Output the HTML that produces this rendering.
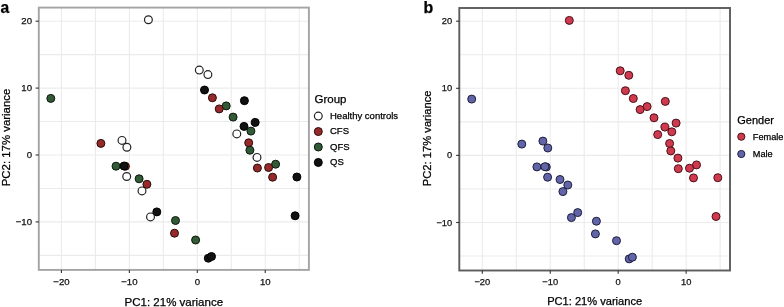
<!DOCTYPE html><html><head><meta charset="utf-8"><style>html,body{margin:0;padding:0;background:#fff;}svg{display:block;will-change:transform;}text{font-family:"Liberation Sans",sans-serif;stroke:currentColor;stroke-width:0.25px;}</style></head><body>
<svg width="784" height="307" viewBox="0 0 784 307">
<rect width="784" height="307" fill="#fff"/>
<rect x="38.8" y="7.6" width="270.09999999999997" height="262.29999999999995" fill="#fff"/>
<line x1="61.44" y1="7.6" x2="61.44" y2="269.9" stroke="#ebebeb" stroke-width="1.1"/>
<line x1="95.41" y1="7.6" x2="95.41" y2="269.9" stroke="#ebebeb" stroke-width="1.1"/>
<line x1="129.37" y1="7.6" x2="129.37" y2="269.9" stroke="#ebebeb" stroke-width="1.1"/>
<line x1="163.34" y1="7.6" x2="163.34" y2="269.9" stroke="#ebebeb" stroke-width="1.1"/>
<line x1="197.30" y1="7.6" x2="197.30" y2="269.9" stroke="#ebebeb" stroke-width="1.1"/>
<line x1="231.27" y1="7.6" x2="231.27" y2="269.9" stroke="#ebebeb" stroke-width="1.1"/>
<line x1="265.23" y1="7.6" x2="265.23" y2="269.9" stroke="#ebebeb" stroke-width="1.1"/>
<line x1="299.19" y1="7.6" x2="299.19" y2="269.9" stroke="#ebebeb" stroke-width="1.1"/>
<line x1="38.8" y1="21.20" x2="308.9" y2="21.20" stroke="#ebebeb" stroke-width="1.1"/>
<line x1="38.8" y1="54.65" x2="308.9" y2="54.65" stroke="#ebebeb" stroke-width="1.1"/>
<line x1="38.8" y1="88.10" x2="308.9" y2="88.10" stroke="#ebebeb" stroke-width="1.1"/>
<line x1="38.8" y1="121.55" x2="308.9" y2="121.55" stroke="#ebebeb" stroke-width="1.1"/>
<line x1="38.8" y1="155.00" x2="308.9" y2="155.00" stroke="#ebebeb" stroke-width="1.1"/>
<line x1="38.8" y1="188.45" x2="308.9" y2="188.45" stroke="#ebebeb" stroke-width="1.1"/>
<line x1="38.8" y1="221.90" x2="308.9" y2="221.90" stroke="#ebebeb" stroke-width="1.1"/>
<line x1="38.8" y1="255.35" x2="308.9" y2="255.35" stroke="#ebebeb" stroke-width="1.1"/>
<circle cx="148.40" cy="19.70" r="3.90" fill="#ffffff" stroke="#222" stroke-width="1.2"/>
<circle cx="50.80" cy="98.40" r="4.00" fill="#325a37" stroke="#0c180d" stroke-width="1.0"/>
<circle cx="199.30" cy="70.10" r="3.90" fill="#ffffff" stroke="#222" stroke-width="1.2"/>
<circle cx="207.90" cy="74.60" r="3.90" fill="#ffffff" stroke="#222" stroke-width="1.2"/>
<circle cx="204.50" cy="90.00" r="4.00" fill="#111111" stroke="#000" stroke-width="1.0"/>
<circle cx="212.40" cy="97.80" r="4.00" fill="#962929" stroke="#2a0c0c" stroke-width="1.0"/>
<circle cx="226.20" cy="105.90" r="4.00" fill="#325a37" stroke="#0c180d" stroke-width="1.0"/>
<circle cx="219.20" cy="108.90" r="4.00" fill="#962929" stroke="#2a0c0c" stroke-width="1.0"/>
<circle cx="244.40" cy="100.70" r="4.00" fill="#111111" stroke="#000" stroke-width="1.0"/>
<circle cx="233.10" cy="117.10" r="4.00" fill="#325a37" stroke="#0c180d" stroke-width="1.0"/>
<circle cx="244.00" cy="126.40" r="4.00" fill="#111111" stroke="#000" stroke-width="1.0"/>
<circle cx="255.20" cy="122.40" r="4.00" fill="#111111" stroke="#000" stroke-width="1.0"/>
<circle cx="250.90" cy="131.10" r="4.00" fill="#325a37" stroke="#0c180d" stroke-width="1.0"/>
<circle cx="236.80" cy="133.90" r="3.90" fill="#ffffff" stroke="#222" stroke-width="1.2"/>
<circle cx="248.70" cy="142.80" r="4.00" fill="#962929" stroke="#2a0c0c" stroke-width="1.0"/>
<circle cx="249.90" cy="150.20" r="4.00" fill="#325a37" stroke="#0c180d" stroke-width="1.0"/>
<circle cx="257.00" cy="157.40" r="3.90" fill="#ffffff" stroke="#222" stroke-width="1.2"/>
<circle cx="257.40" cy="168.00" r="4.00" fill="#962929" stroke="#2a0c0c" stroke-width="1.0"/>
<circle cx="275.60" cy="164.20" r="4.00" fill="#325a37" stroke="#0c180d" stroke-width="1.0"/>
<circle cx="268.60" cy="167.50" r="4.00" fill="#962929" stroke="#2a0c0c" stroke-width="1.0"/>
<circle cx="272.60" cy="177.20" r="4.00" fill="#962929" stroke="#2a0c0c" stroke-width="1.0"/>
<circle cx="296.90" cy="177.00" r="4.00" fill="#111111" stroke="#000" stroke-width="1.0"/>
<circle cx="295.10" cy="215.80" r="4.00" fill="#111111" stroke="#000" stroke-width="1.0"/>
<circle cx="100.90" cy="143.40" r="4.00" fill="#962929" stroke="#2a0c0c" stroke-width="1.0"/>
<circle cx="122.00" cy="140.40" r="3.90" fill="#ffffff" stroke="#222" stroke-width="1.2"/>
<circle cx="126.90" cy="147.30" r="3.90" fill="#ffffff" stroke="#222" stroke-width="1.2"/>
<circle cx="116.00" cy="166.20" r="4.00" fill="#325a37" stroke="#0c180d" stroke-width="1.0"/>
<circle cx="125.40" cy="166.30" r="4.00" fill="#962929" stroke="#2a0c0c" stroke-width="1.0"/>
<circle cx="124.00" cy="166.00" r="4.00" fill="#111111" stroke="#000" stroke-width="1.0"/>
<circle cx="126.70" cy="176.50" r="3.90" fill="#ffffff" stroke="#222" stroke-width="1.2"/>
<circle cx="139.10" cy="178.80" r="4.00" fill="#325a37" stroke="#0c180d" stroke-width="1.0"/>
<circle cx="142.00" cy="190.90" r="3.90" fill="#ffffff" stroke="#222" stroke-width="1.2"/>
<circle cx="146.90" cy="184.30" r="4.00" fill="#962929" stroke="#2a0c0c" stroke-width="1.0"/>
<circle cx="156.80" cy="211.90" r="4.00" fill="#111111" stroke="#000" stroke-width="1.0"/>
<circle cx="150.50" cy="216.90" r="3.90" fill="#ffffff" stroke="#222" stroke-width="1.2"/>
<circle cx="175.50" cy="220.50" r="4.00" fill="#325a37" stroke="#0c180d" stroke-width="1.0"/>
<circle cx="174.50" cy="233.20" r="4.00" fill="#962929" stroke="#2a0c0c" stroke-width="1.0"/>
<circle cx="195.60" cy="240.00" r="4.00" fill="#325a37" stroke="#0c180d" stroke-width="1.0"/>
<circle cx="208.30" cy="258.20" r="4.00" fill="#111111" stroke="#000" stroke-width="1.0"/>
<circle cx="211.50" cy="256.50" r="4.00" fill="#111111" stroke="#000" stroke-width="1.0"/>
<rect x="38.8" y="7.6" width="270.09999999999997" height="262.29999999999995" fill="none" stroke="#a4a4a4" stroke-width="1.9"/>
<line x1="61.44" y1="269.9" x2="61.44" y2="273.09999999999997" stroke="#333" stroke-width="1.1"/>
<text x="61.44" y="285" font-size="9.6" fill="#222" text-anchor="middle">−20</text>
<line x1="129.37" y1="269.9" x2="129.37" y2="273.09999999999997" stroke="#333" stroke-width="1.1"/>
<text x="129.37" y="285" font-size="9.6" fill="#222" text-anchor="middle">−10</text>
<line x1="197.30" y1="269.9" x2="197.30" y2="273.09999999999997" stroke="#333" stroke-width="1.1"/>
<text x="197.30" y="285" font-size="9.6" fill="#222" text-anchor="middle">0</text>
<line x1="265.23" y1="269.9" x2="265.23" y2="273.09999999999997" stroke="#333" stroke-width="1.1"/>
<text x="265.23" y="285" font-size="9.6" fill="#222" text-anchor="middle">10</text>
<line x1="35.599999999999994" y1="21.20" x2="38.8" y2="21.20" stroke="#333" stroke-width="1.1"/>
<text x="32.0" y="24" font-size="9.6" fill="#222" text-anchor="end">20</text>
<line x1="35.599999999999994" y1="88.10" x2="38.8" y2="88.10" stroke="#333" stroke-width="1.1"/>
<text x="32.0" y="91" font-size="9.6" fill="#222" text-anchor="end">10</text>
<line x1="35.599999999999994" y1="155.00" x2="38.8" y2="155.00" stroke="#333" stroke-width="1.1"/>
<text x="32.0" y="158" font-size="9.6" fill="#222" text-anchor="end">0</text>
<line x1="35.599999999999994" y1="221.90" x2="38.8" y2="221.90" stroke="#333" stroke-width="1.1"/>
<text x="32.0" y="225" font-size="9.6" fill="#222" text-anchor="end">−10</text>
<text x="173.85" y="305.8" font-size="11.5" fill="#000" text-anchor="middle">PC1: 21% variance</text>
<text transform="translate(10.0,137.5) rotate(-90)" x="0" y="0" font-size="11.4" fill="#000" text-anchor="middle">PC2: 17% variance</text>
<text x="0.5" y="13" font-size="15.6" font-weight="bold" fill="#000">a</text>
<text x="314.5" y="103.1" font-size="11.5" fill="#000">Group</text>
<circle cx="318.3" cy="116.10" r="3.90" fill="#ffffff" stroke="#222" stroke-width="1.2"/>
<text x="330.0" y="119.04" font-size="9.5" fill="#000">Healthy controls</text>
<circle cx="318.3" cy="131.55" r="4.00" fill="#962929" stroke="#2a0c0c" stroke-width="1.0"/>
<text x="330.0" y="134.49" font-size="9.5" fill="#000">CFS</text>
<circle cx="318.3" cy="147.00" r="4.00" fill="#325a37" stroke="#0c180d" stroke-width="1.0"/>
<text x="330.0" y="149.94" font-size="9.5" fill="#000">QFS</text>
<circle cx="318.3" cy="162.45" r="4.00" fill="#111111" stroke="#000" stroke-width="1.0"/>
<text x="330.0" y="165.39" font-size="9.5" fill="#000">QS</text>
<rect x="459.3" y="8.0" width="270.7" height="262.5" fill="#fff"/>
<line x1="482.30" y1="8.0" x2="482.30" y2="270.5" stroke="#ebebeb" stroke-width="1.1"/>
<line x1="516.28" y1="8.0" x2="516.28" y2="270.5" stroke="#ebebeb" stroke-width="1.1"/>
<line x1="550.25" y1="8.0" x2="550.25" y2="270.5" stroke="#ebebeb" stroke-width="1.1"/>
<line x1="584.23" y1="8.0" x2="584.23" y2="270.5" stroke="#ebebeb" stroke-width="1.1"/>
<line x1="618.20" y1="8.0" x2="618.20" y2="270.5" stroke="#ebebeb" stroke-width="1.1"/>
<line x1="652.18" y1="8.0" x2="652.18" y2="270.5" stroke="#ebebeb" stroke-width="1.1"/>
<line x1="686.15" y1="8.0" x2="686.15" y2="270.5" stroke="#ebebeb" stroke-width="1.1"/>
<line x1="720.12" y1="8.0" x2="720.12" y2="270.5" stroke="#ebebeb" stroke-width="1.1"/>
<line x1="459.3" y1="21.20" x2="730.0" y2="21.20" stroke="#ebebeb" stroke-width="1.1"/>
<line x1="459.3" y1="54.75" x2="730.0" y2="54.75" stroke="#ebebeb" stroke-width="1.1"/>
<line x1="459.3" y1="88.30" x2="730.0" y2="88.30" stroke="#ebebeb" stroke-width="1.1"/>
<line x1="459.3" y1="121.85" x2="730.0" y2="121.85" stroke="#ebebeb" stroke-width="1.1"/>
<line x1="459.3" y1="155.40" x2="730.0" y2="155.40" stroke="#ebebeb" stroke-width="1.1"/>
<line x1="459.3" y1="188.95" x2="730.0" y2="188.95" stroke="#ebebeb" stroke-width="1.1"/>
<line x1="459.3" y1="222.50" x2="730.0" y2="222.50" stroke="#ebebeb" stroke-width="1.1"/>
<line x1="459.3" y1="256.05" x2="730.0" y2="256.05" stroke="#ebebeb" stroke-width="1.1"/>
<circle cx="569.30" cy="20.40" r="4.00" fill="#d03a4e" stroke="#4a1018" stroke-width="1.0"/>
<circle cx="471.70" cy="99.10" r="4.00" fill="#6264a8" stroke="#1e1e3c" stroke-width="1.0"/>
<circle cx="620.20" cy="70.80" r="4.00" fill="#d03a4e" stroke="#4a1018" stroke-width="1.0"/>
<circle cx="628.80" cy="75.30" r="4.00" fill="#d03a4e" stroke="#4a1018" stroke-width="1.0"/>
<circle cx="625.40" cy="90.70" r="4.00" fill="#d03a4e" stroke="#4a1018" stroke-width="1.0"/>
<circle cx="633.30" cy="98.50" r="4.00" fill="#d03a4e" stroke="#4a1018" stroke-width="1.0"/>
<circle cx="647.10" cy="106.60" r="4.00" fill="#d03a4e" stroke="#4a1018" stroke-width="1.0"/>
<circle cx="640.10" cy="109.60" r="4.00" fill="#d03a4e" stroke="#4a1018" stroke-width="1.0"/>
<circle cx="665.30" cy="101.40" r="4.00" fill="#d03a4e" stroke="#4a1018" stroke-width="1.0"/>
<circle cx="654.00" cy="117.80" r="4.00" fill="#d03a4e" stroke="#4a1018" stroke-width="1.0"/>
<circle cx="664.90" cy="127.10" r="4.00" fill="#d03a4e" stroke="#4a1018" stroke-width="1.0"/>
<circle cx="676.10" cy="123.10" r="4.00" fill="#d03a4e" stroke="#4a1018" stroke-width="1.0"/>
<circle cx="671.80" cy="131.80" r="4.00" fill="#d03a4e" stroke="#4a1018" stroke-width="1.0"/>
<circle cx="657.70" cy="134.60" r="4.00" fill="#d03a4e" stroke="#4a1018" stroke-width="1.0"/>
<circle cx="669.60" cy="143.50" r="4.00" fill="#d03a4e" stroke="#4a1018" stroke-width="1.0"/>
<circle cx="670.80" cy="150.90" r="4.00" fill="#d03a4e" stroke="#4a1018" stroke-width="1.0"/>
<circle cx="677.90" cy="158.10" r="4.00" fill="#d03a4e" stroke="#4a1018" stroke-width="1.0"/>
<circle cx="678.30" cy="168.70" r="4.00" fill="#d03a4e" stroke="#4a1018" stroke-width="1.0"/>
<circle cx="696.50" cy="164.90" r="4.00" fill="#d03a4e" stroke="#4a1018" stroke-width="1.0"/>
<circle cx="689.50" cy="168.20" r="4.00" fill="#d03a4e" stroke="#4a1018" stroke-width="1.0"/>
<circle cx="693.50" cy="177.90" r="4.00" fill="#d03a4e" stroke="#4a1018" stroke-width="1.0"/>
<circle cx="717.80" cy="177.70" r="4.00" fill="#d03a4e" stroke="#4a1018" stroke-width="1.0"/>
<circle cx="716.00" cy="216.50" r="4.00" fill="#d03a4e" stroke="#4a1018" stroke-width="1.0"/>
<circle cx="521.80" cy="144.10" r="4.00" fill="#6264a8" stroke="#1e1e3c" stroke-width="1.0"/>
<circle cx="542.90" cy="141.10" r="4.00" fill="#6264a8" stroke="#1e1e3c" stroke-width="1.0"/>
<circle cx="547.80" cy="148.00" r="4.00" fill="#6264a8" stroke="#1e1e3c" stroke-width="1.0"/>
<circle cx="536.90" cy="166.90" r="4.00" fill="#6264a8" stroke="#1e1e3c" stroke-width="1.0"/>
<circle cx="546.30" cy="167.00" r="4.00" fill="#6264a8" stroke="#1e1e3c" stroke-width="1.0"/>
<circle cx="544.90" cy="166.70" r="4.00" fill="#6264a8" stroke="#1e1e3c" stroke-width="1.0"/>
<circle cx="547.60" cy="177.20" r="4.00" fill="#6264a8" stroke="#1e1e3c" stroke-width="1.0"/>
<circle cx="560.00" cy="179.50" r="4.00" fill="#6264a8" stroke="#1e1e3c" stroke-width="1.0"/>
<circle cx="562.90" cy="191.60" r="4.00" fill="#6264a8" stroke="#1e1e3c" stroke-width="1.0"/>
<circle cx="567.80" cy="185.00" r="4.00" fill="#6264a8" stroke="#1e1e3c" stroke-width="1.0"/>
<circle cx="577.70" cy="212.60" r="4.00" fill="#6264a8" stroke="#1e1e3c" stroke-width="1.0"/>
<circle cx="571.40" cy="217.60" r="4.00" fill="#6264a8" stroke="#1e1e3c" stroke-width="1.0"/>
<circle cx="596.40" cy="221.20" r="4.00" fill="#6264a8" stroke="#1e1e3c" stroke-width="1.0"/>
<circle cx="595.40" cy="233.90" r="4.00" fill="#6264a8" stroke="#1e1e3c" stroke-width="1.0"/>
<circle cx="616.50" cy="240.70" r="4.00" fill="#6264a8" stroke="#1e1e3c" stroke-width="1.0"/>
<circle cx="629.20" cy="258.90" r="4.00" fill="#6264a8" stroke="#1e1e3c" stroke-width="1.0"/>
<circle cx="632.40" cy="257.20" r="4.00" fill="#6264a8" stroke="#1e1e3c" stroke-width="1.0"/>
<rect x="459.3" y="8.0" width="270.7" height="262.5" fill="none" stroke="#5c5c5c" stroke-width="1.9"/>
<line x1="482.30" y1="270.5" x2="482.30" y2="273.7" stroke="#333" stroke-width="1.1"/>
<text x="482.30" y="285" font-size="9.3" fill="#222" text-anchor="middle">−20</text>
<line x1="550.25" y1="270.5" x2="550.25" y2="273.7" stroke="#333" stroke-width="1.1"/>
<text x="550.25" y="285" font-size="9.3" fill="#222" text-anchor="middle">−10</text>
<line x1="618.20" y1="270.5" x2="618.20" y2="273.7" stroke="#333" stroke-width="1.1"/>
<text x="618.20" y="285" font-size="9.3" fill="#222" text-anchor="middle">0</text>
<line x1="686.15" y1="270.5" x2="686.15" y2="273.7" stroke="#333" stroke-width="1.1"/>
<text x="686.15" y="285" font-size="9.3" fill="#222" text-anchor="middle">10</text>
<line x1="456.1" y1="21.20" x2="459.3" y2="21.20" stroke="#333" stroke-width="1.1"/>
<text x="452.2" y="24" font-size="9.3" fill="#222" text-anchor="end">20</text>
<line x1="456.1" y1="88.30" x2="459.3" y2="88.30" stroke="#333" stroke-width="1.1"/>
<text x="452.2" y="91" font-size="9.3" fill="#222" text-anchor="end">10</text>
<line x1="456.1" y1="155.40" x2="459.3" y2="155.40" stroke="#333" stroke-width="1.1"/>
<text x="452.2" y="158" font-size="9.3" fill="#222" text-anchor="end">0</text>
<line x1="456.1" y1="222.50" x2="459.3" y2="222.50" stroke="#333" stroke-width="1.1"/>
<text x="452.2" y="226" font-size="9.3" fill="#222" text-anchor="end">−10</text>
<text x="594.65" y="305.0" font-size="11.1" fill="#000" text-anchor="middle">PC1: 21% variance</text>
<text transform="translate(430.6,138.3) rotate(-90)" x="0" y="0" font-size="11.2" fill="#000" text-anchor="middle">PC2: 17% variance</text>
<text x="423.6" y="13" font-size="15.9" font-weight="bold" fill="#000">b</text>
<text x="737.3" y="123.9" font-size="11.0" fill="#000">Gender</text>
<circle cx="741.3" cy="136.70" r="3.60" fill="#d03a4e" stroke="#4a1018" stroke-width="1.0"/>
<text x="752.8" y="139.55" font-size="9.2" fill="#000">Female</text>
<circle cx="741.3" cy="154.00" r="3.60" fill="#6264a8" stroke="#1e1e3c" stroke-width="1.0"/>
<text x="752.8" y="156.85" font-size="9.2" fill="#000">Male</text>
</svg></body></html>
